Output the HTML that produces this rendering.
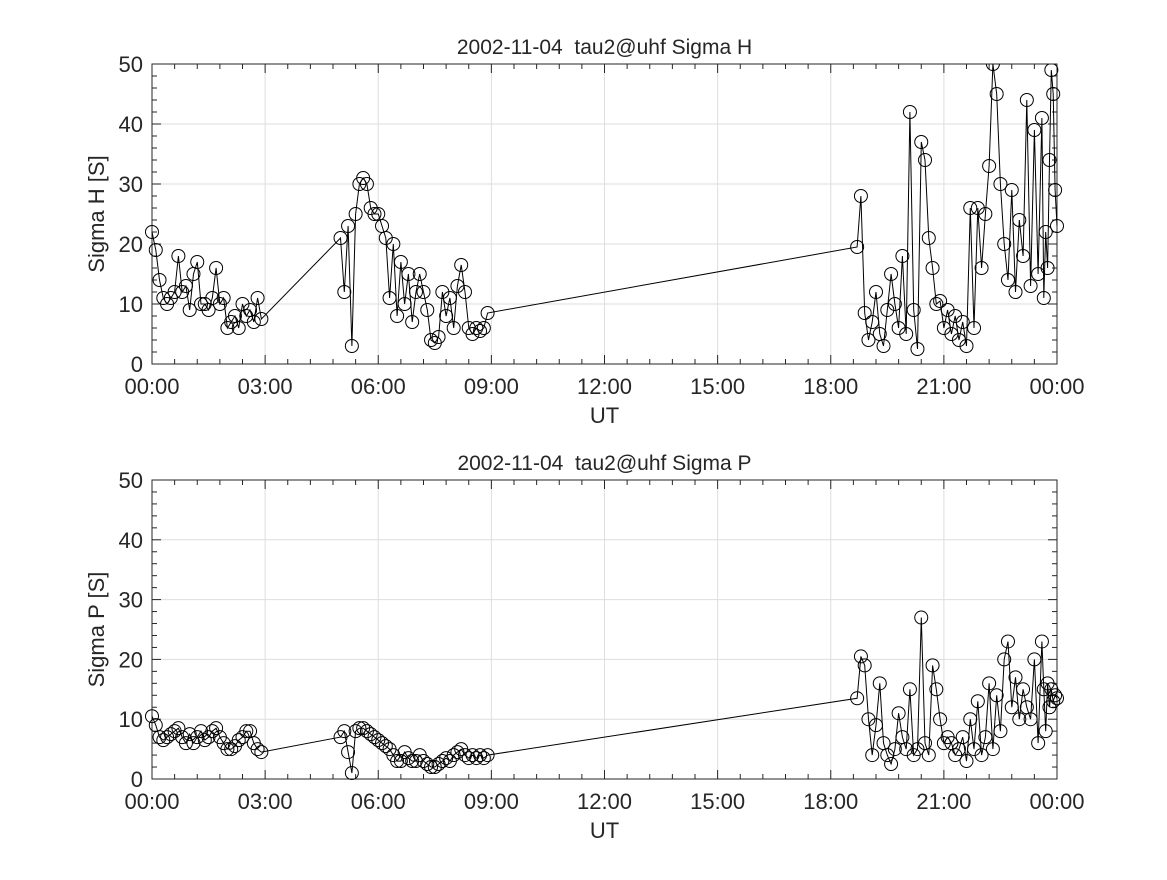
<!DOCTYPE html>
<html><head><meta charset="utf-8"><style>
body{margin:0;background:#fff;}
svg text{font-family:"Liberation Sans","DejaVu Sans",sans-serif;fill:#262626;white-space:pre;}
</style></head><body>
<svg id="chart" width="1167" height="875" xmlns="http://www.w3.org/2000/svg">
<rect width="1167" height="875" fill="#fff"/>
</svg>
<script>
const hTimes1=[0.0,0.1,0.2,0.3,0.4,0.5,0.6,0.7,0.8,0.9,1.0,1.1,1.2,1.3,1.4,1.5,1.6,1.7,1.8,1.9,2.0,2.1,2.2,2.3,2.4,2.5,2.6,2.7,2.8,2.9];
const hTimes2=[5.0,5.1,5.2,5.3,5.4,5.5,5.6,5.7,5.8,5.9,6.0,6.1,6.2,6.3,6.4,6.5,6.6,6.7,6.8,6.9,7.0,7.1,7.2,7.3,7.4,7.5,7.6,7.7,7.8,7.9,8.0,8.1,8.2,8.3,8.4,8.5,8.6,8.7,8.8,8.9];
const hTimes3=[18.7,18.8,18.9,19.0,19.1,19.2,19.3,19.4,19.5,19.6,19.7,19.8,19.9,20.0,20.1,20.2,20.3,20.4,20.5,20.6,20.7,20.8,20.9,21.0,21.1,21.2,21.3,21.4,21.5,21.6,21.7,21.8,21.9,22.0,22.1,22.2,22.3,22.4,22.5,22.6,22.7,22.8,22.9,23.0,23.1,23.2,23.3,23.4,23.5,23.6,23.65,23.7,23.75,23.8,23.85,23.9,23.95,24.0];
const sigmaH1=[22,19,14,11,10,11,12,18,12,13,9,15,17,10,10,9,11,16,10,11,6,7,8,6,10,8,9,7,11,7.5];
const sigmaH2=[21,12,23,3,25,30,31,30,26,25,25,23,21,11,20,8,17,10,15,7,12,15,12,9,4,3.5,4.5,12,8,11,6,13,16.5,12,6,5,6,5.5,6,8.5];
const sigmaH3=[19.5,28,8.5,4,7,12,5,3,9,15,10,6,18,5,42,9,2.5,37,34,21,16,10,10.5,6,9,5,8,4,7,3,26,6,26,16,25,33,50,45,30,20,14,29,12,24,18,44,13,39,15,41,11,22,16,34,49,45,29,23];
const sigmaP1=[10.5,9,7,6.5,7,7.5,8,8.5,7,6,7.5,6,7,8,6.5,7,8,8.5,7,6,5,5,5.5,6.5,7,8,8,6,5,4.5];
const sigmaP2=[7,8,4.5,1,8,8.5,8.5,8,7.5,7,6.5,6,5.5,5,4,3,3,4.5,3.5,3,3,4,3,2.5,2,2,2.5,3,3.5,3,4,4.5,5,4,3.5,4,3.5,4,3.5,4];
const sigmaP3=[13.5,20.5,19,10,4,9,16,6,4,2.5,5,11,7,5,15,4,5,27,6,4,19,15,10,6,7,6,4,5,7,3,10,5,13,4,7,16,5,14,8,20,23,12,17,10,15,12,10,20,6,23,15,8,16,12,15,13,14,13.5];
const xTickLabels=["00:00","03:00","06:00","09:00","12:00","15:00","18:00","21:00","00:00"];
const yTickLabels=["0","10","20","30","40","50"];

const NS="http://www.w3.org/2000/svg";
const svg=document.getElementById('chart');
function mk(tag,attrs,parent){const e=document.createElementNS(NS,tag);for(const k in attrs)e.setAttribute(k,attrs[k]);(parent||svg).appendChild(e);return e;}
const X0=152,X1=1057;
function xs(h){return X0+(h/24)*(X1-X0);}

function panel(top,bottom,title,ylabel,times,vals,key){
  const g=mk('g',{});
  
  
  const ys=v=>bottom-(v/50)*(bottom-top);
  for(let i=0;i<=8;i++){const x=xs(i*3);if(i>0&&i<8){const l=mk('line',{x1:x,x2:x,y1:top,y2:bottom,stroke:'#dedede','stroke-width':1},g);}}
  for(let i=1;i<5;i++){const y=ys(i*10);const l=mk('line',{x1:X0,x2:X1,y1:y,y2:y,stroke:'#dedede','stroke-width':1},g);}
  for(let h=0;h<=24.001;h+=0.6){const x=xs(h);const big=Math.abs(h/3-Math.round(h/3))<0.01;const L=big?9:5;
    mk('line',{x1:x,x2:x,y1:bottom,y2:bottom-L,stroke:'#262626','stroke-width':1},g);
    mk('line',{x1:x,x2:x,y1:top,y2:top+L,stroke:'#262626','stroke-width':1},g);}
  for(let v=0;v<=50;v+=2){const y=ys(v);const L=(v%10==0)?9:5;
    mk('line',{x1:X0,x2:X0+L,y1:y,y2:y,stroke:'#262626','stroke-width':1},g);
    mk('line',{x1:X1,x2:X1-L,y1:y,y2:y,stroke:'#262626','stroke-width':1},g);}
  const box=mk('rect',{x:X0,y:top,width:X1-X0,height:bottom-top,fill:'none',stroke:'#262626','stroke-width':1},g);
  
  xTickLabels.forEach((t,i)=>{const e=mk('text',{x:xs(i*3),y:bottom+30,'text-anchor':'middle','font-size':22},g);e.textContent=t;
    });
  yTickLabels.forEach((t,i)=>{const e=mk('text',{x:X0-9,y:ys(+t)+8,'text-anchor':'end','font-size':22},g);e.textContent=t;
    });
  const xt=mk('text',{x:(X0+X1)/2,y:bottom+59,'text-anchor':'middle','font-size':22},g);xt.textContent='UT';
  
  const yt=mk('text',{x:0,y:0,'text-anchor':'middle','font-size':22,transform:`translate(104,${(top+bottom)/2}) rotate(-90)`},g);yt.textContent=ylabel;
  
  const tt=mk('text',{x:(X0+X1)/2,y:top-10,'text-anchor':'middle','font-size':21},g);tt.textContent=title;
  
  let d='';
  times.forEach((t,i)=>{d+=(i?'L':'M')+xs(t).toFixed(1)+' '+ys(Math.min(vals[i],50)).toFixed(1);});
  const cp=mk('clipPath',{id:'clip-'+key},g);mk('rect',{x:X0-8,y:top,width:X1-X0+16,height:bottom-top+8},cp);
  const cg=mk('g',{'clip-path':`url(#clip-${key})`},g);
  const line=mk('path',{d:d,fill:'none',stroke:'#000','stroke-width':1},cg);
  
  times.forEach((t,i)=>{const c=mk('circle',{cx:xs(t),cy:ys(vals[i]),r:6.5,fill:'none',stroke:'#000','stroke-width':1},cg);
    });
}
panel(64,364,'2002-11-04  tau2@uhf Sigma H','Sigma H [S]',hTimes1.concat(hTimes2,hTimes3),sigmaH1.concat(sigmaH2,sigmaH3),'sigma-h');
panel(480,779,'2002-11-04  tau2@uhf Sigma P','Sigma P [S]',hTimes1.concat(hTimes2,hTimes3),sigmaP1.concat(sigmaP2,sigmaP3),'sigma-p');
</script>
</body></html>
